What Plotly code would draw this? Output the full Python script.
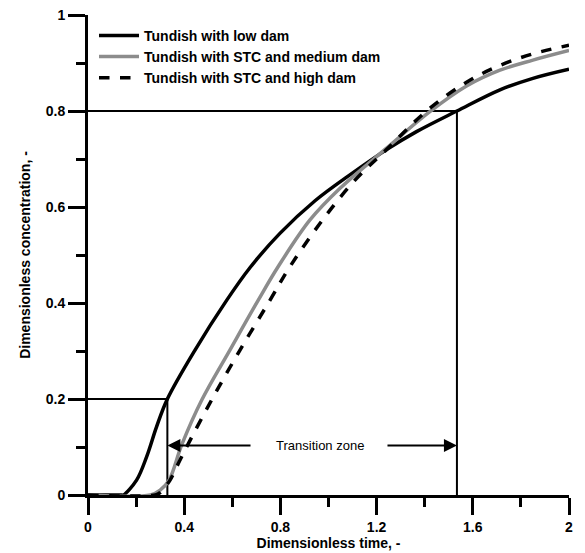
import plotly.graph_objects as go

# ---- data ----
t_low = [0, 0.14, 0.147, 0.202, 0.244, 0.285, 0.33, 0.445, 0.577, 0.674, 0.798, 0.944, 1.089, 1.24, 1.366, 1.534, 1.713, 1.85, 2.0]
c_low = [0, 0, 0.0, 0.031, 0.08, 0.142, 0.2, 0.302, 0.406, 0.474, 0.545, 0.613, 0.667, 0.719, 0.757, 0.80, 0.844, 0.868, 0.887]

t_med = [0, 0.26, 0.30, 0.337, 0.39, 0.473, 0.59, 0.708, 0.791, 0.923, 1.048, 1.24, 1.42, 1.574, 1.713, 1.85, 2.0]
c_med = [0, 0, 0.01, 0.031, 0.105, 0.198, 0.302, 0.406, 0.476, 0.573, 0.639, 0.722, 0.798, 0.852, 0.885, 0.906, 0.926]

t_high = [0, 0.28, 0.30, 0.34, 0.37, 0.41, 0.514, 0.632, 0.757, 0.84, 0.965, 1.103, 1.24, 1.408, 1.574, 1.713, 1.85, 2.0]
c_high = [0, 0, 0.005, 0.03, 0.06, 0.10, 0.198, 0.302, 0.406, 0.476, 0.566, 0.652, 0.719, 0.80, 0.86, 0.895, 0.919, 0.937]

names = ["Tundish with low dam", "Tundish with STC and medium dam", "Tundish with STC and high dam"]

# transition zone markers
t_start, c_start = 0.33, 0.2
t_end, c_end = 1.534, 0.8
arrow_c = 0.103
label_t = 0.965
arrow_left_tail = 0.682
arrow_right_tail = 1.239

x_ticks = [0, 0.4, 0.8, 1.2, 1.6, 2]
x_tick_text = ["0", "0.4", "0.8", "1.2", "1.6", "2"]
y_ticks = [0, 0.2, 0.4, 0.6, 0.8, 1]
y_tick_text = ["0", "0.2", "0.4", "0.6", "0.8", "1"]

FONT = "Liberation Sans, Arial, sans-serif"

fig = go.Figure()

# reference lines
fig.add_trace(go.Scatter(x=[0, t_start, t_start], y=[c_start, c_start, 0], mode="lines",
                         line=dict(color="black", width=2), showlegend=False, hoverinfo="skip"))
fig.add_trace(go.Scatter(x=[0, t_end, t_end], y=[c_end, c_end, 0], mode="lines",
                         line=dict(color="black", width=2), showlegend=False, hoverinfo="skip"))

fig.add_trace(go.Scatter(x=t_low, y=c_low, mode="lines", name=f"<b>{names[0]}</b>",
                         line=dict(color="black", width=3.5, shape="spline", smoothing=1.0), cliponaxis=False))
fig.add_trace(go.Scatter(x=t_med, y=c_med, mode="lines", name=f"<b>{names[1]}</b>",
                         line=dict(color="#8c8c8c", width=3.5, shape="spline", smoothing=1.0), cliponaxis=False))
fig.add_trace(go.Scatter(x=t_high, y=c_high, mode="lines", name=f"<b>{names[2]}</b>",
                         line=dict(color="black", width=3.5, dash="dash", shape="spline", smoothing=1.0), cliponaxis=False))

# transition zone annotations
fig.add_annotation(x=label_t, y=arrow_c, text="Transition zone", showarrow=False,
                   font=dict(family=FONT, size=13, color="black"))
fig.add_annotation(x=t_start, y=arrow_c, ax=arrow_left_tail, ay=arrow_c, xref="x", yref="y",
                   axref="x", ayref="y", showarrow=True, arrowhead=2, arrowsize=1.3,
                   arrowwidth=2, arrowcolor="black", text="")
fig.add_annotation(x=t_end, y=arrow_c, ax=arrow_right_tail, ay=arrow_c, xref="x", yref="y",
                   axref="x", ayref="y", showarrow=True, arrowhead=2, arrowsize=1.3,
                   arrowwidth=2, arrowcolor="black", text="")

axis_common = dict(showline=True, linecolor="black", linewidth=3, ticks="outside",
                   ticklen=17, tickwidth=3, tickcolor="black", showgrid=False, zeroline=False,
                   automargin=False, ticklabeloverflow="allow",
                   tickfont=dict(family=FONT, size=14, color="black"))

fig.update_xaxes(range=[0, 2], tickvals=x_ticks, ticktext=[f"<b>{t}</b>" for t in x_tick_text],
                 minor=dict(dtick=0.2, tick0=0, ticks="outside", ticklen=9, tickwidth=3, tickcolor="black"),
                 title=dict(text="<b>Dimensionless time, -</b>", font=dict(family=FONT, size=14, color="black"), standoff=4),
                 **axis_common)
fig.update_yaxes(range=[0, 1], tickvals=y_ticks, ticktext=[f"<b>{t}</b>" for t in y_tick_text],
                 minor=dict(dtick=0.1, tick0=0, ticks="outside", ticklen=9, tickwidth=3, tickcolor="black"),
                 title=dict(text="<b>Dimensionless concentration, -</b>", font=dict(family=FONT, size=14, color="black"), standoff=12),
                 **axis_common)

fig.update_layout(
    width=577, height=545,
    margin=dict(l=80, r=16, t=7, b=58),
    paper_bgcolor="white", plot_bgcolor="white",
    legend=dict(x=0.0125, y=0.99, xanchor="left", yanchor="top", bgcolor="rgba(0,0,0,0)",
                font=dict(family=FONT, size=14, color="black"), tracegroupgap=0, itemwidth=40),
    font=dict(family=FONT, color="black"),
)

fig.write_html("out.html")
